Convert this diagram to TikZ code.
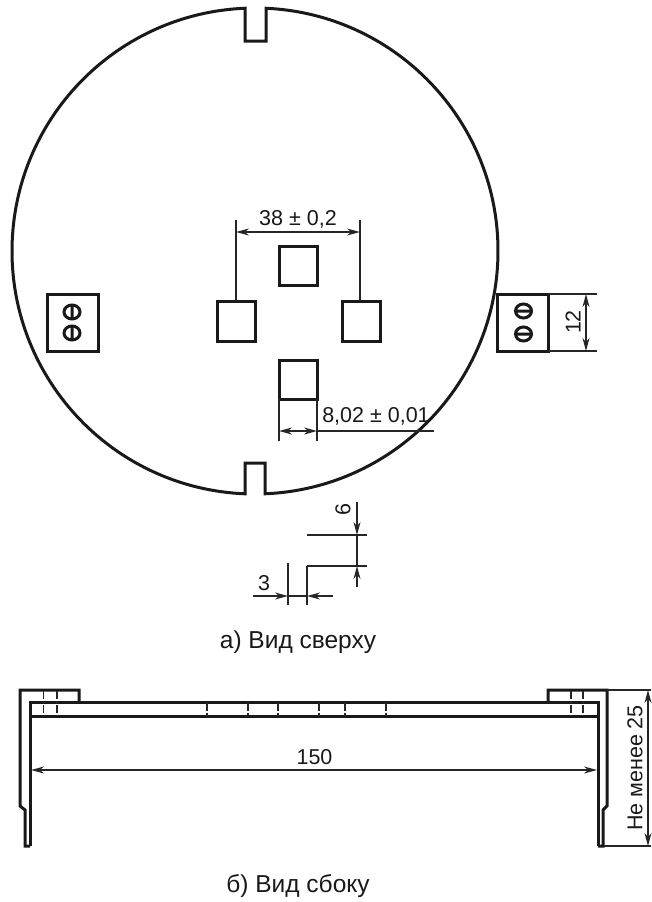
\documentclass[tikz,border=0pt]{standalone}
\usepackage{fontspec}
\setmainfont{Liberation Sans}
\usetikzlibrary{arrows.meta}
\tikzset{
  thick line/.style={line width=3pt,line cap=butt,line join=miter,black!90},
  thin line/.style={line width=1.3pt,black!85},
  dimline/.style={line width=1.3pt,black!85},
  tipend/.style={-{Stealth[length=13pt,width=7pt]}},
  bothtips/.style={{Stealth[length=13pt,width=7pt]}-{Stealth[length=13pt,width=7pt]}},
  hid/.style={line width=1.2pt,black!85,dash pattern=on 8pt off 1.5pt on 3pt off 1.5pt},
  lab/.style={inner sep=0pt,font=\fontsize{21.5}{21.5}\selectfont,text=black!90},
  captext/.style={inner sep=0pt,font=\fontsize{24.5}{24.5}\selectfont,text=black!90},
  screw/.style={line width=3pt,black!90}
}
\begin{document}
\begin{tikzpicture}[x=1pt,y=1pt,yscale=-1]
\useasboundingbox (0,0) rectangle (651,902);
% disc with notches
\draw[thick line,line join=miter]
  ([shift={(255,251)}]-87.4:243) arc[start angle=-87.4,end angle=87.64,radius=243]
  -- (265,463) -- (245,463) -- (245,493.8)
  arc[start angle=92.36,end angle=267.64,radius=243]
  -- (245,41) -- (266,41) -- cycle;
% holes
\draw[thick line] (279,246) rectangle (317,285);
\draw[thick line] (217,301) rectangle (255,341);
\draw[thick line] (342,301) rectangle (380,341);
\draw[thick line] (279,360) rectangle (317,399);
% left block
\draw[thick line] (47,294) rectangle (98,351);
\draw[screw] (72,312) ellipse[x radius=8,y radius=7] (72,305)--(72,319);
\draw[screw] (72,333) ellipse[x radius=8,y radius=7] (72,326)--(72,340);
% right block
\draw[thick line] (497,294) rectangle (548,351);
\draw[screw] (523.5,311) ellipse[x radius=8,y radius=7] (515.5,311)--(531.5,311);
\draw[screw] (523.5,334) ellipse[x radius=8,y radius=7] (515.5,334)--(531.5,334);
% dim 38
\draw[thin line] (236,301)--(236,220) (360,301)--(360,220);
\draw[dimline,bothtips] (236,232)--(360,232);
\node[lab] (d38) at (298,219.5) {38 ± 0,2};
% dim 8,02
\draw[thin line] (279,399)--(279,441) (317,399)--(317,441);
\draw[dimline,bothtips] (279,431)--(317,431);
\draw[thin line] (317,431)--(434,431);
\node[lab] (d802) at (376,416) {8,02 ± 0,01};
% dim 12
\draw[thin line] (548,294)--(597,294) (548,351)--(597,351);
\draw[dimline,bothtips] (586,294)--(586,351);
\node[lab,rotate=90] (d12) at (573,322) {12};
% dim 6
\draw[thin line] (307,535)--(367,535) (307,566)--(367,566);
\draw[dimline,tipend] (357,502)--(357,535);
\draw[dimline,tipend] (357,587)--(357,566);
\draw[thin line] (357,535)--(357,566);
\node[lab,rotate=90] (d6) at (343,510) {6};
% dim 3
\draw[thin line] (288,563)--(288,605) (307,566)--(307,605);
\draw[dimline,tipend] (253,596)--(288,596);
\draw[dimline,tipend] (333,596)--(307,596);
\draw[thin line] (288,596)--(307,596);
\node[lab] (d3) at (264,583) {3};
% caption a
\node[captext] (capa) at (298,642) {а) Вид сверху};
% side view plate
\draw[thick line] (30,846)--(30,702)--(598,702)--(598,846);
\draw[thick line] (30,716)--(598,716);
% left wall
\draw[thick line] (79,702)--(79,690)--(20,690)--(20,806)--(25,810)--(25,846)--(30,846);
% right wall
\draw[thick line] (548,702)--(548,690)--(607,690)--(607,806)--(603,810)--(603,846)--(598,846);
% hidden lines
\foreach \hx in {43.5,57,571,583}{\draw[hid] (\hx,691)--(\hx,716);}
\foreach \hx in {207,248,278,319,345,386}{\draw[hid] (\hx,703)--(\hx,716);}
% dim 150
\draw[dimline,bothtips] (31,770)--(597,770);
\node[lab] (d150) at (314.5,757) {150};
% dim 25
\draw[thin line] (607,690)--(651,690) (604,846)--(651,846);
\draw[dimline,bothtips] (648,690)--(648,846);
\node[lab,rotate=90] (d25) at (635,768) {Не менее 25};
% caption b
\node[captext] (capb) at (298,886) {б) Вид сбоку};
\end{tikzpicture}
\end{document}
